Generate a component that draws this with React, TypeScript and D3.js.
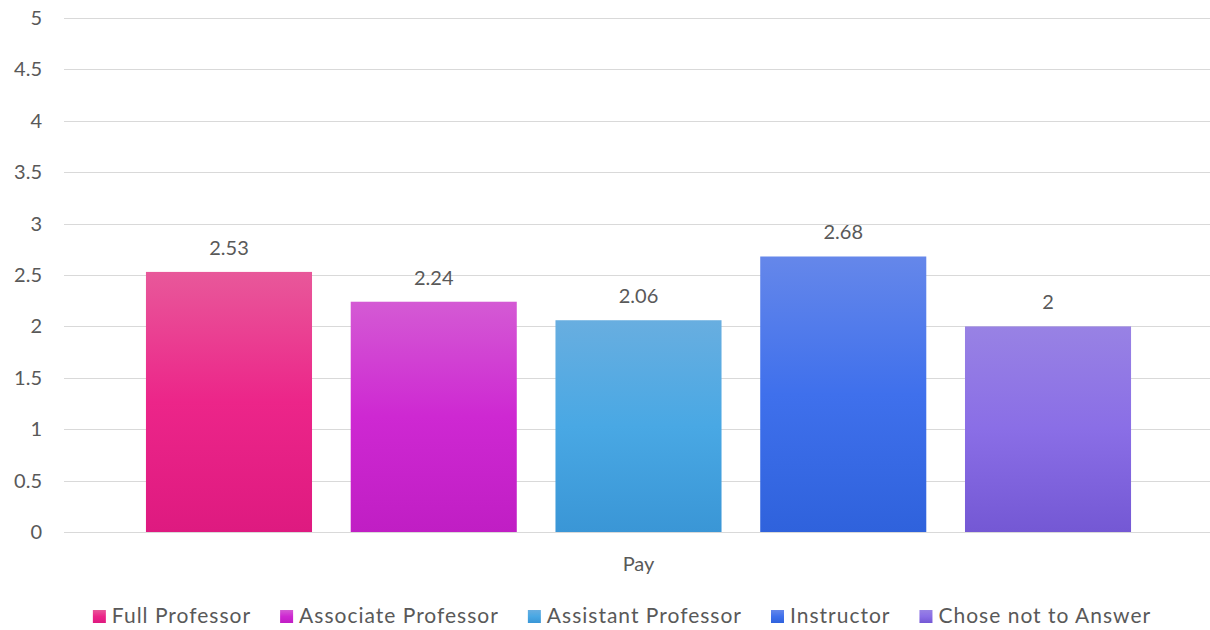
import * as d3 from 'd3'
import * as React from 'react'

//------------------------------data------------------------------
const categories = ['Pay']
const seriesNames = [
  'Full Professor',
  'Associate Professor',
  'Assistant Professor',
  'Instructor',
  'Chose not to Answer'
]
const seriesValues = [2.53, 2.24, 2.06, 2.68, 2]
const yTicks = [0, 0.5, 1, 1.5, 2, 2.5, 3, 3.5, 4, 4.5, 5]
// top, middle, bottom of each bar's gradient
const seriesGradients = [
  ['#E8589A', '#EC2589', '#DE1A80'],
  ['#D45AD4', '#CE28D2', '#C01EC4'],
  ['#68AEE0', '#49A8E4', '#3A96D6'],
  ['#6587EA', '#3F70EC', '#2F62DC'],
  ['#9882E4', '#8A6EE6', '#7458D4']
]

const WIDTH = 1210
const HEIGHT = 630
const FONT = 'Lato, "Open Sans", sans-serif'
const TEXT = '#595959'

//------------------------------drawChart------------------------------
const drawChart = (svgRef: React.RefObject<SVGSVGElement>) => {
  const svg = d3.select(svgRef.current)
  svg.selectAll('*').remove()
  svg.attr('width', WIDTH).attr('height', HEIGHT)

  const plot = { left: 64, right: 1213, top: 18, bottom: 532 }

  const y = d3.scaleLinear().domain([0, 5]).range([plot.bottom, plot.top])
  const x0 = d3
    .scaleBand()
    .domain(categories)
    .range([plot.left, plot.right])
    .paddingInner(0)
    .paddingOuter(0.0832)
  const x1 = d3
    .scaleBand()
    .domain(seriesNames)
    .range([0, x0.bandwidth()])
    .paddingInner(0.189)
    .paddingOuter(0)

  const defs = svg.append('defs')
  seriesGradients.forEach((stops, i) => {
    const g = defs
      .append('linearGradient')
      .attr('id', `grad-${i}`)
      .attr('x1', 0)
      .attr('y1', 0)
      .attr('x2', 0)
      .attr('y2', 1)
    g.append('stop').attr('offset', '0%').attr('stop-color', stops[0])
    g.append('stop').attr('offset', '50%').attr('stop-color', stops[1])
    g.append('stop').attr('offset', '100%').attr('stop-color', stops[2])
  })

  // gridlines
  svg
    .append('g')
    .selectAll('line')
    .data(yTicks)
    .join('line')
    .attr('x1', plot.left)
    .attr('x2', WIDTH)
    .attr('y1', d => Math.round(y(d)) + 0.5)
    .attr('y2', d => Math.round(y(d)) + 0.5)
    .attr('stroke', '#D9D9D9')
    .attr('stroke-width', 1)

  // y tick labels
  svg
    .append('g')
    .selectAll('text')
    .data(yTicks)
    .join('text')
    .attr('x', 42)
    .attr('y', d => y(d) + 7)
    .attr('text-anchor', 'end')
    .attr('font-family', FONT)
    .attr('font-size', 20)
    .attr('fill', TEXT)
    .text(d => String(d))

  // bars
  const group = svg
    .append('g')
    .selectAll('g')
    .data(categories)
    .join('g')
    .attr('transform', d => `translate(${x0(d)},0)`)

  group
    .selectAll('rect')
    .data(seriesNames.map((name, i) => ({ name, value: seriesValues[i], i })))
    .join('rect')
    .attr('x', d => x1(d.name) as number)
    .attr('width', x1.bandwidth())
    .attr('y', d => y(d.value))
    .attr('height', d => y(0) - y(d.value))
    .attr('fill', d => `url(#grad-${d.i})`)

  group
    .selectAll('text')
    .data(seriesNames.map((name, i) => ({ name, value: seriesValues[i] })))
    .join('text')
    .attr('x', d => (x1(d.name) as number) + x1.bandwidth() / 2)
    .attr('y', d => y(d.value) - 17)
    .attr('text-anchor', 'middle')
    .attr('font-family', FONT)
    .attr('font-size', 20)
    .attr('fill', TEXT)
    .text(d => String(d.value))

  // category label
  svg
    .append('g')
    .selectAll('text')
    .data(categories)
    .join('text')
    .attr('x', d => (x0(d) as number) + x0.bandwidth() / 2)
    .attr('y', 571)
    .attr('text-anchor', 'middle')
    .attr('font-family', FONT)
    .attr('font-size', 20)
    .attr('fill', TEXT)
    .text(d => d)

  // legend
  const legend = svg.append('g')
  const items = legend
    .selectAll('g')
    .data(seriesNames)
    .join('g')
  items
    .append('rect')
    .attr('width', 13)
    .attr('height', 13)
    .attr('y', 610)
    .attr('fill', (_, i) => `url(#grad-${i})`)
  items
    .append('text')
    .attr('x', 19)
    .attr('y', 623)
    .attr('font-family', FONT)
    .attr('font-size', 21)
    .attr('letter-spacing', 1)
    .attr('fill', TEXT)
    .text(d => d)

  const widths: number[] = []
  items.each(function () {
    const t = d3.select(this).select('text').node() as SVGTextElement
    widths.push(19 + t.getComputedTextLength())
  })
  const gap = 29
  const total = d3.sum(widths) + gap * (widths.length - 1)
  let cursor = 622 - total / 2
  items.attr('transform', (_, i) => {
    const tx = cursor
    cursor += widths[i] + gap
    return `translate(${tx},0)`
  })
}

//------------------------------Component------------------------------
const App: React.FunctionComponent = () => {
  const chartSvg = React.useRef<SVGSVGElement>(null)

  React.useEffect(() => {
    drawChart(chartSvg)
  }, [])

  return (
    <svg
      ref={chartSvg}
      style={{ position: 'absolute', left: 0, top: 0, background: '#fff' }}
    />
  )
}

export default App
